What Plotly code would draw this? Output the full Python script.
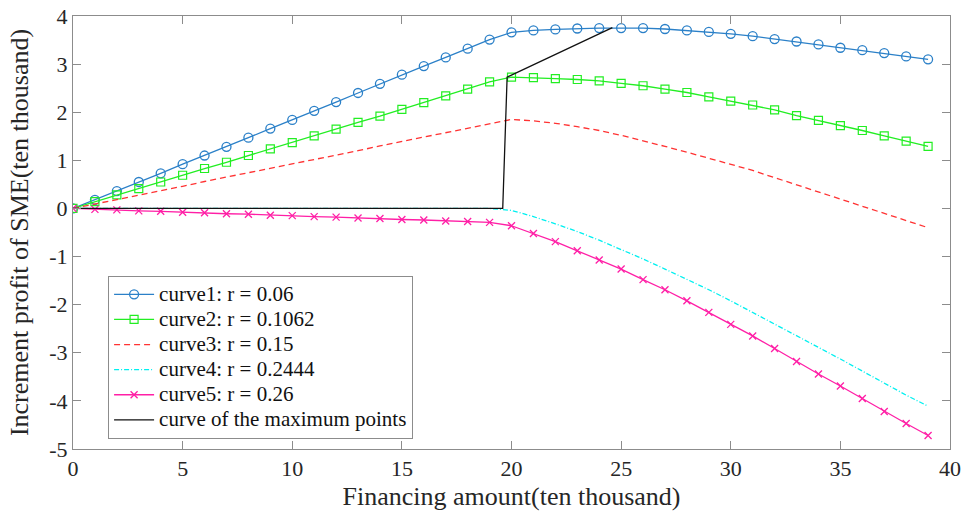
import plotly.graph_objects as go

x = list(range(40))

curve1 = [0, 0.18, 0.36, 0.55, 0.73, 0.92, 1.10, 1.28, 1.47, 1.66, 1.84, 2.03, 2.21, 2.40, 2.59,
          2.78, 2.96, 3.14, 3.32, 3.51, 3.66, 3.70, 3.72, 3.74, 3.75, 3.75, 3.75, 3.73, 3.70, 3.67,
          3.63, 3.58, 3.52, 3.47, 3.41, 3.34, 3.29, 3.23, 3.16, 3.10]
curve2 = [0, 0.14, 0.28, 0.41, 0.55, 0.69, 0.83, 0.96, 1.10, 1.24, 1.37, 1.51, 1.65, 1.79, 1.92,
          2.06, 2.20, 2.34, 2.48, 2.63, 2.73, 2.72, 2.70, 2.68, 2.65, 2.60, 2.55, 2.48, 2.41, 2.32,
          2.23, 2.15, 2.05, 1.93, 1.83, 1.72, 1.62, 1.51, 1.40, 1.29]
curve3 = [0, 0.09, 0.19, 0.28, 0.37, 0.46, 0.56, 0.65, 0.74, 0.83, 0.93, 1.02, 1.11, 1.20, 1.30,
          1.39, 1.48, 1.57, 1.67, 1.76, 1.85, 1.82, 1.77, 1.70, 1.62, 1.52, 1.41, 1.29, 1.17, 1.04,
          0.92, 0.79, 0.64, 0.49, 0.34, 0.20, 0.05, -0.10, -0.25, -0.40]
curve4 = [0] * 20 + [-0.04, -0.17, -0.32, -0.48, -0.66, -0.85, -1.05, -1.26, -1.47, -1.69,
                     -1.92, -2.16, -2.40, -2.64, -2.89, -3.13, -3.38, -3.63, -3.88, -4.11]
curve5 = [0, -0.02, -0.03, -0.05, -0.06, -0.08, -0.09, -0.11, -0.12, -0.14, -0.15, -0.17, -0.18,
          -0.20, -0.21, -0.23, -0.24, -0.26, -0.27, -0.29, -0.36, -0.52, -0.69, -0.88, -1.07,
          -1.26, -1.48, -1.69, -1.92, -2.16, -2.41, -2.65, -2.91, -3.18, -3.44, -3.69, -3.95,
          -4.22, -4.47, -4.72]
max_x = [0, 19.6, 19.8, 24.6]
max_y = [0, 0, 2.73, 3.76]

names = ["curve1: r = 0.06", "curve2: r = 0.1062", "curve3: r = 0.15",
         "curve4: r = 0.2444", "curve5: r = 0.26", "curve of the maximum points"]

x_ticks = [0, 5, 10, 15, 20, 25, 30, 35, 40]
x_tick_labels = ["0", "5", "10", "15", "20", "25", "30", "35", "40"]
y_ticks = [-5, -4, -3, -2, -1, 0, 1, 2, 3, 4]
y_tick_labels = ["-5", "-4", "-3", "-2", "-1", "0", "1", "2", "3", "4"]


def lg(s):
    return "<span style='font-size:21px'>" + s + "</span>"


fig = go.Figure()
fig.add_trace(go.Scatter(x=x, y=curve1, name=lg(names[0]), mode="lines+markers",
                         line=dict(color="#2b80c8", width=1.3),
                         marker=dict(symbol="circle-open", size=9, color="#2b80c8", line=dict(width=1.3))))
fig.add_trace(go.Scatter(x=x, y=curve2, name=lg(names[1]), mode="lines+markers",
                         line=dict(color="#22ee22", width=1.3),
                         marker=dict(symbol="square-open", size=8, color="#22ee22", line=dict(width=1.2))))
fig.add_trace(go.Scatter(x=x, y=curve3, name=lg(names[2]), mode="lines",
                         line=dict(color="#ff3333", width=1.3, dash="6px,4px")))
fig.add_trace(go.Scatter(x=x, y=curve4, name=lg(names[3]), mode="lines",
                         line=dict(color="#00f0f0", width=1.3, dash="5px,2px,1px,2px")))
fig.add_trace(go.Scatter(x=x, y=curve5, name=lg(names[4]), mode="lines+markers",
                         line=dict(color="#ff1fa6", width=1.3),
                         marker=dict(symbol="x-thin-open", size=7, color="#ff1fa6", line=dict(width=1.3, color="#ff1fa6"))))
fig.add_trace(go.Scatter(x=max_x, y=max_y, name=lg(names[5]), mode="lines",
                         line=dict(color="#111111", width=1.3)))

axis_common = dict(showline=True, linecolor="#8c8c8c", linewidth=1, mirror="ticks",
                   ticks="inside", ticklen=8, tickcolor="#8c8c8c", showgrid=False, zeroline=False,
                   automargin=False, ticklabeloverflow="allow",
                   tickfont=dict(family="Liberation Serif", size=22, color="#262626"))

fig.update_xaxes(range=[0, 40], tickmode="array", tickvals=x_ticks, ticktext=x_tick_labels,
                 title=dict(text="Financing amount(ten thousand)", standoff=6,
                            font=dict(family="Liberation Serif", size=26, color="#262626")),
                 **axis_common)
fig.update_yaxes(range=[-5, 4], tickmode="array", tickvals=y_ticks, ticktext=y_tick_labels,
                 title=dict(text="Increment profit of SME(ten thousand)", standoff=13,
                            font=dict(family="Liberation Serif", size=26, color="#262626")),
                 **axis_common)

fig.update_layout(
    width=965, height=519,
    margin=dict(l=73, r=15, t=16, b=70),
    plot_bgcolor="white", paper_bgcolor="white",
    legend=dict(x=0.04, y=0.40, xanchor="left", yanchor="top",
                bordercolor="#8c8c8c", borderwidth=1, bgcolor="white",
                font=dict(family="Liberation Serif", size=17, color="#111111"),
                tracegroupgap=0, itemwidth=40),
    showlegend=True,
)

fig.write_html("out.html", config={"displayModeBar": False},
               post_script="document.body.style.margin='0px';")
